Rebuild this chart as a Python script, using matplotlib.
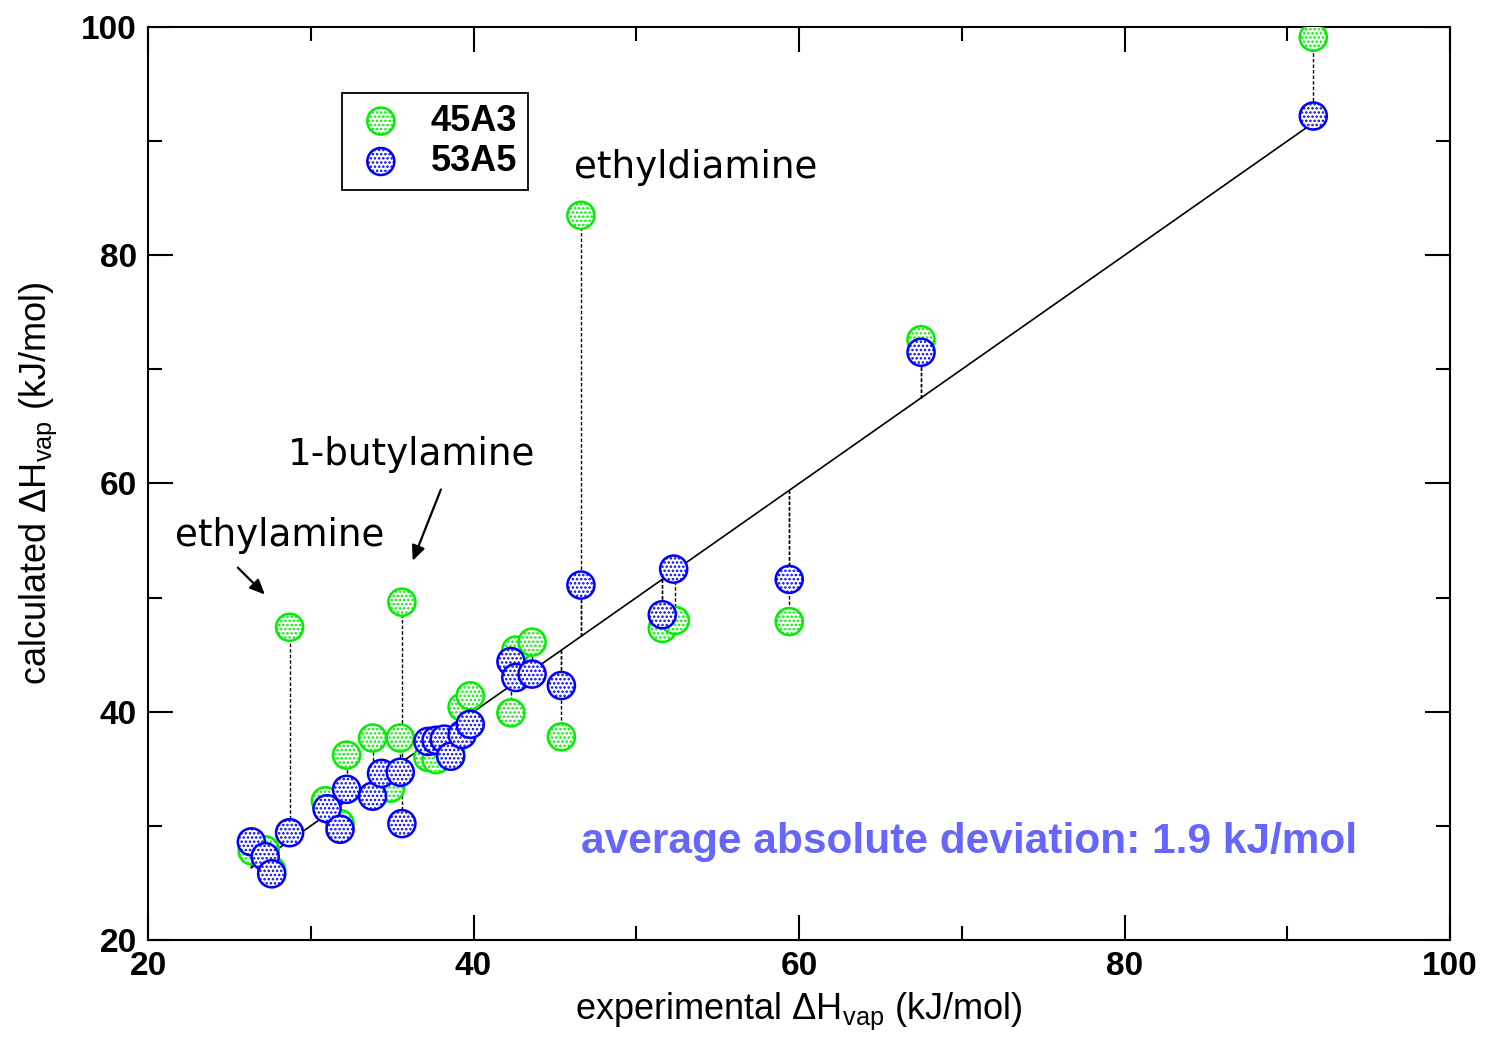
import matplotlib
matplotlib.use("Agg")
import matplotlib.pyplot as plt
import numpy as np

# ---- data ----
exp_45A3 = [26.4, 27.2, 27.6, 28.7, 30.9, 31.8, 32.2, 33.8, 34.9, 35.6, 35.5,
            37.2, 37.7, 38.2, 38.6, 39.3, 39.8, 42.3, 42.6, 43.6, 45.4, 46.6,
            51.6, 52.4, 59.4, 67.5, 91.6]
calc_45A3 = [27.8, 27.9, 26.1, 47.4, 32.2, 30.2, 36.2, 37.7, 33.3, 49.6, 37.7,
             36.0, 35.8, 37.0, 36.6, 40.4, 41.4, 39.9, 45.4, 46.1, 37.8, 83.5,
             47.3, 48.0, 47.9, 72.6, 99.1]
exp_53A5 = [26.35, 27.2, 27.6, 28.7, 31.0, 31.8, 32.2, 33.8, 34.35, 35.5, 35.6,
            37.2, 37.7, 38.2, 38.6, 39.3, 39.8, 42.3, 42.6, 43.6, 45.4, 46.6,
            51.6, 52.3, 59.4, 67.5, 91.6]
calc_53A5 = [28.6, 27.3, 25.8, 29.4, 31.5, 29.7, 33.2, 32.6, 34.6, 34.7, 30.2,
             37.4, 37.5, 37.6, 36.1, 38.0, 38.9, 44.4, 43.0, 43.3, 42.3, 51.1,
             48.5, 52.5, 51.6, 71.5, 92.2]

series_names = ["45A3", "53A5"]
annotations = ["ethylamine", "1-butylamine", "ethyldiamine"]
stat_text = "average absolute deviation: 1.9 kJ/mol"
xticks = [20, 40, 60, 80, 100]
yticks = [20, 40, 60, 80, 100]

GREEN = "#00ee00"
BLUE = "#0000ff"

plt.rcParams["hatch.linewidth"] = 1.2

fig = plt.figure(figsize=(14.85, 10.38), dpi=100)
ax = fig.add_axes([148/1485, 98/1038, 1302/1485, 913/1038])

# y = x reference line
all_x = exp_45A3 + exp_53A5
xl = np.array([min(all_x), max(all_x)])
ax.plot(xl, xl, color="black", lw=1.2, zorder=2)

# drop lines from the diagonal to each point
for ex, cy in [(exp_45A3, calc_45A3), (exp_53A5, calc_53A5)]:
    ax.vlines(ex, ex, cy, colors="black", linestyles=(0, (2.5, 1.5)), lw=1.0, zorder=1)

ms = 380
ax.scatter(exp_45A3, calc_45A3, s=ms, facecolor="white", edgecolor=GREEN,
           hatch="....", linewidths=1.8, zorder=3, label=series_names[0])
ax.scatter(exp_53A5, calc_53A5, s=ms, facecolor="white", edgecolor=BLUE,
           hatch="....", linewidths=1.8, zorder=4, label=series_names[1])

ax.set_xlim(20, 100)
ax.set_ylim(20, 100)
ax.set_xticks(xticks)
ax.set_yticks(yticks)
ax.set_xticks(np.arange(30, 100, 20), minor=True)
ax.set_yticks(np.arange(30, 100, 20), minor=True)
ax.tick_params(which="both", direction="in", top=True, right=True, width=1.5)
ax.tick_params(which="major", length=18, pad=8)
ax.tick_params(which="minor", length=10)
for lab in ax.get_xticklabels() + ax.get_yticklabels():
    lab.set_fontfamily("Liberation Sans")
    lab.set_fontsize(24)
    lab.set_fontweight("bold")
for sp in ax.spines.values():
    sp.set_linewidth(1.5)

ax.set_xlabel("experimental ΔH$_\\mathregular{vap}$ (kJ/mol)", fontsize=26,
              family="Liberation Sans", labelpad=6)
ax.set_ylabel("calculated ΔH$_\\mathregular{vap}$ (kJ/mol)", fontsize=26,
              family="Liberation Sans", labelpad=16)

leg = ax.legend(loc="upper left", bbox_to_anchor=(0.149, 0.928), frameon=True,
                fancybox=False, edgecolor="black", framealpha=1,
                prop={"family": "Liberation Sans", "size": 26, "weight": "bold"},
                handletextpad=0.6, borderpad=0.3, labelspacing=0.15,
                handlelength=1.55, borderaxespad=0)
leg.get_frame().set_linewidth(1.3)

ann_font = dict(fontsize=26.8, family="DejaVu Sans", va="center", ha="left")
ax.text(21.66, 55.4, annotations[0], **ann_font)
ax.text(28.6, 62.5, annotations[1], **ann_font)
ax.text(46.2, 87.7, annotations[2], **ann_font)
arrow = dict(arrowstyle="-|>,head_length=0.9,head_width=0.4", color="black", lw=1.6)
ax.annotate("", xy=(27.3, 50.1), xytext=(25.4, 52.8), arrowprops=arrow)
ax.annotate("", xy=(36.2, 53.0), xytext=(38.06, 59.7), arrowprops=arrow)

ax.text(46.6, 28.6, stat_text, fontsize=30.5, family="Liberation Sans",
        fontweight="bold", color="#6666ff", va="center", ha="left")

fig.savefig("out.png", dpi=100)
